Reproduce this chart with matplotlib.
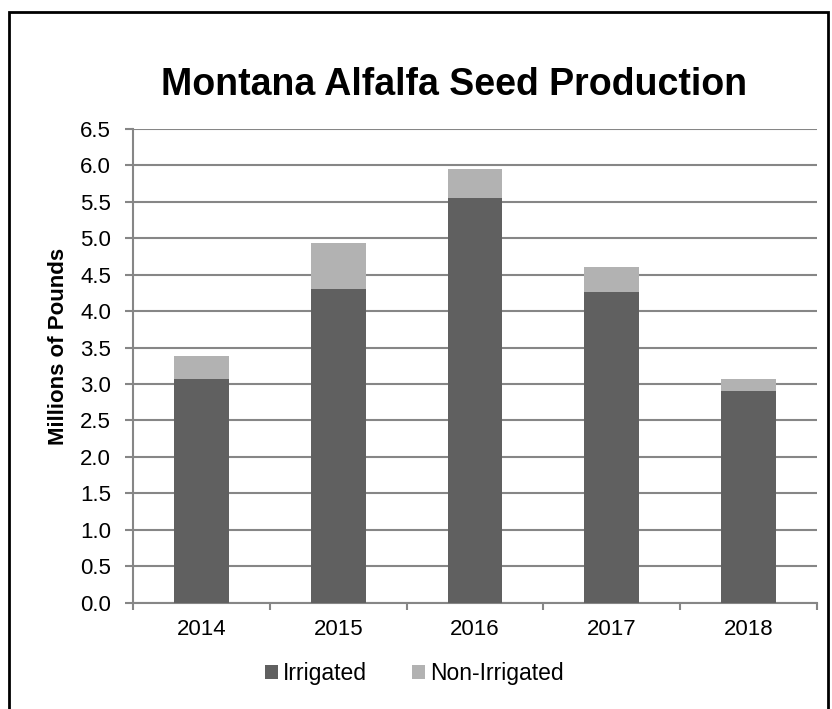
import matplotlib.pyplot as plt
from matplotlib.patches import Rectangle
import numpy as np

years = ["2014", "2015", "2016", "2017", "2018"]
irrigated = [3.07, 4.31, 5.56, 4.26, 2.91]
non_irrigated = [0.32, 0.63, 0.39, 0.34, 0.16]

plt.rcParams['font.family'] = ['Liberation Sans', 'DejaVu Sans']

fig = plt.figure(figsize=(8.32, 7.09), dpi=100)
ax = fig.add_axes([0.160, 0.150, 0.822, 0.668])

grid_c = '#868686'
x = np.arange(len(years))
ax.bar(x, irrigated, width=0.4, color='#606060', label='Irrigated', zorder=3)
ax.bar(x, non_irrigated, width=0.4, bottom=irrigated, color='#b2b2b2',
       label='Non-Irrigated', zorder=3)

ax.set_xlim(-0.5, len(years) - 0.5)
ax.set_ylim(0, 6.5)
ax.set_yticks(np.arange(0, 6.51, 0.5))
ax.set_yticklabels([f'{v:.1f}' for v in np.arange(0, 6.51, 0.5)])
ax.set_xticks(x)
ax.set_xticklabels(years)
ax.set_xticks(np.arange(-0.5, len(years)), minor=True)
ax.tick_params(axis='x', which='major', length=0, labelsize=16, pad=11.5)
ax.tick_params(axis='x', which='minor', length=5, width=1.5, color=grid_c)
ax.tick_params(axis='y', length=6, width=1.5, color=grid_c, labelsize=16, pad=10)

ax.yaxis.grid(True, color=grid_c, linewidth=1.5, zorder=0)
for s in ['top', 'right']:
    ax.spines[s].set_visible(False)
for s in ['left', 'bottom']:
    ax.spines[s].set_color(grid_c)
    ax.spines[s].set_linewidth(1.5)

ax.set_ylabel('Millions of Pounds', fontsize=16, fontweight='bold')
ax.yaxis.set_label_coords(-0.094, 0.542)
fig.text(0.546, 0.880, 'Montana Alfalfa Seed Production', ha='center', va='center',
         fontsize=27, fontweight='bold')

ax.legend(loc='center', bbox_to_anchor=(0.4115, -0.150), ncol=2, frameon=False,
          fontsize=16.5, handlelength=0.57, handleheight=0.57, handletextpad=0.22,
          columnspacing=1.97, borderpad=0)

fig.patches.append(Rectangle((0.011, -0.05), 0.984, 1.033, transform=fig.transFigure,
                             fill=False, edgecolor='black', linewidth=2))

fig.savefig('out.png', dpi=100)
